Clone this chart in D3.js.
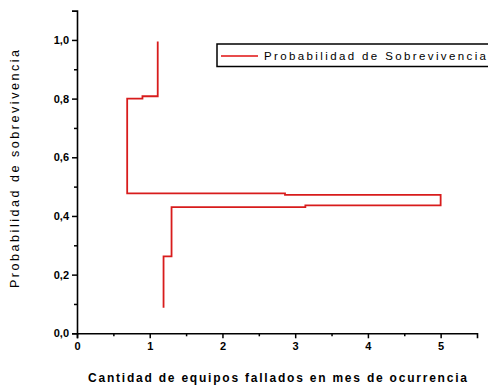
<!DOCTYPE html>
<html><head><meta charset="utf-8">
<script src="https://cdn.jsdelivr.net/npm/d3@7"></script>
<style>body{margin:0;background:#fff}svg{display:block}text{font-family:"Liberation Sans",Arial,sans-serif}</style>
</head><body>
<svg id="c" width="488" height="387"></svg>
<script>
// Data: step curve (Cantidad de equipos fallados, Probabilidad de sobrevivencia)
const xValues = [1.19, 1.19, 1.30, 1.30, 3.14, 3.14, 5.00, 5.00, 2.86, 2.86, 0.69, 0.69, 0.90, 0.90, 1.11, 1.11];
const yValues = [0.087, 0.262, 0.262, 0.430, 0.430, 0.436, 0.436, 0.472, 0.472, 0.477, 0.477, 0.800, 0.800, 0.808, 0.808, 0.995];
const xTicks = [0, 1, 2, 3, 4, 5];
const yTicks = [0.0, 0.2, 0.4, 0.6, 0.8, 1.0];
const seriesName = "Probabilidad de Sobrevivencia";
const xTitle = "Cantidad de equipos fallados en mes de ocurrencia";
const yTitle = "Probabilidad de sobrevivencia";

const svg = d3.select("#c");
const x = d3.scaleLinear().domain([0, 5.5]).range([77, 477]);
const y = d3.scaleLinear().domain([0, 1.1]).range([333.3, 10.6]);
const fmt = d => d3.format(".1f")(d).replace(".", ",");

// minor ticks
const xMinor = d3.range(0.5, 5.5, 1);
const yMinor = d3.range(0.1, 1.1, 0.2);

const gx = svg.append("g").attr("transform", "translate(0,333.3)");
gx.call(d3.axisBottom(x).tickValues(xTicks).tickFormat(d3.format("d")).tickSize(5).tickPadding(4));
gx.append("g").call(d3.axisBottom(x).tickValues(xMinor).tickFormat("").tickSize(3)).select(".domain").remove();
const gy = svg.append("g").attr("transform", "translate(77,0)");
gy.call(d3.axisLeft(y).tickValues(yTicks).tickFormat(fmt).tickSize(5).tickPadding(3));
gy.append("g").call(d3.axisLeft(y).tickValues(yMinor).tickFormat("").tickSize(3)).select(".domain").remove();
svg.selectAll(".domain").attr("stroke", "#000").attr("stroke-width", 1.6);
svg.selectAll(".tick line").attr("stroke", "#000").attr("stroke-width", 1.5);
svg.selectAll(".tick text").attr("font-size", 11).attr("font-weight", "bold").attr("fill", "#000");

// line
const pts = xValues.map((v, i) => [v, yValues[i]]);
svg.append("path").datum(pts)
  .attr("fill", "none").attr("stroke", "#d81c1c").attr("stroke-width", 1.8)
  .attr("d", d3.line().x(d => x(d[0])).y(d => y(d[1])));

// legend
svg.append("rect").attr("x", 217).attr("y", 44).attr("width", 290).attr("height", 22.5)
  .attr("fill", "#fff").attr("stroke", "#000").attr("stroke-width", 1.5);
svg.append("line").attr("x1", 221).attr("x2", 258).attr("y1", 56).attr("y2", 56)
  .attr("stroke", "#e01010").attr("stroke-width", 1.5);
svg.append("text").attr("x", 264).attr("y", 60).attr("font-size", 11.5)
  .attr("textLength", 222).attr("lengthAdjust", "spacing").text(seriesName);

// titles
svg.append("text").attr("x", 88).attr("y", 382).attr("font-size", 12).attr("font-weight", "bold")
  .attr("textLength", 379).attr("lengthAdjust", "spacing").text(xTitle);
svg.append("text").attr("transform", "translate(19,288) rotate(-90)").attr("font-size", 12.5)
  .attr("textLength", 238).attr("lengthAdjust", "spacing").text(yTitle);
</script>
</body></html>
